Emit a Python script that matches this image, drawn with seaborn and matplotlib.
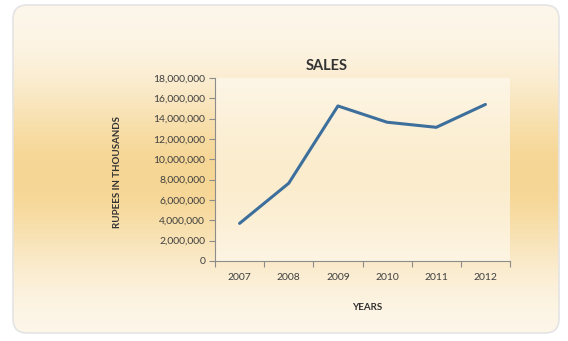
import numpy as np
import pandas as pd
import matplotlib
matplotlib.use("Agg")
import matplotlib.pyplot as plt
import seaborn as sns
from matplotlib.patches import FancyBboxPatch
from matplotlib.ticker import FuncFormatter, MultipleLocator

years = ["2007", "2008", "2009", "2010", "2011", "2012"]
sales = [3700000, 7650000, 15250000, 13650000, 13150000, 15400000]
y_ticks = [0, 2000000, 4000000, 6000000, 8000000, 10000000, 12000000, 14000000, 16000000, 18000000]

df = pd.DataFrame({"year": years, "sales": sales})

sns.set_theme(style="white")
plt.rcParams['font.family'] = ['Lato', 'DejaVu Sans']

W, H = 568, 341
fig = plt.figure(figsize=(W / 100, H / 100), dpi=100)
fig.patch.set_facecolor("white")

# background frame with vertical gradient
bg = fig.add_axes([0, 0, 1, 1], zorder=0)
bg.set_xlim(0, W)
bg.set_ylim(H, 0)
bg.axis("off")
x0, y0, x1, y1 = 13, 5, 559, 333
grad = np.linspace(0, 1, 300)
c_light = np.array([253, 248, 238]) / 255
c_mid = np.array([246, 214, 148]) / 255
w = np.exp(-((grad - 0.52) / 0.28) ** 2)
img = c_light[None, :] * (1 - w[:, None]) + c_mid[None, :] * w[:, None]
img = np.repeat(img[:, None, :], 2, axis=1)
im = bg.imshow(img, extent=[x0, x1, y1, y0], aspect="auto", zorder=1)
frame = FancyBboxPatch((x0, y0), x1 - x0, y1 - y0, boxstyle="round,pad=0,rounding_size=14",
                       facecolor="none", edgecolor="#e4e4e4", linewidth=1.2, zorder=2)
bg.add_patch(frame)
im.set_clip_path(frame)

# plot area
left, right, top, bottom = 215, 510, 78, 261
ax = fig.add_axes([left / W, 1 - bottom / H, (right - left) / W, (bottom - top) / H], zorder=3)
ax.set_facecolor((1, 0.99, 0.96, 0.6))

sns.lineplot(data=df, x="year", y="sales", ax=ax, color="#3d6f9c", linewidth=2.2, sort=False)

ax.set_xlim(-0.5, len(years) - 0.5)
ax.set_ylim(0, 18000000)
ax.set_yticks(y_ticks)
ax.yaxis.set_major_formatter(FuncFormatter(lambda v, p: f"{int(v):,}"))
ax.set_xticks(range(len(years)))
ax.set_xticklabels(years)
ax.xaxis.set_minor_locator(MultipleLocator(1, offset=0.5))

for s in ["top", "right"]:
    ax.spines[s].set_visible(False)
for s in ["left", "bottom"]:
    ax.spines[s].set_color("#8c8c8c")
    ax.spines[s].set_linewidth(0.8)

ax.tick_params(axis="y", which="major", length=4, width=0.8, color="#8c8c8c", direction="out",
               labelsize=7.5, labelcolor="#404040", pad=3, left=True)
ax.tick_params(axis="x", which="major", length=0, labelsize=7.5, labelcolor="#404040", pad=9)
ax.tick_params(axis="x", which="minor", length=4, width=0.8, color="#8c8c8c", direction="out", bottom=True)

ax.set_xlabel("")
ax.set_ylabel("")
fig.text(327 / W, 1 - 66 / H, "SALES", ha="center", va="center", fontsize=10.5,
         fontweight="bold", color="#333333")
fig.text(367 / W, 1 - 307 / H, "YEARS", ha="center", va="center", fontsize=7,
         fontweight="bold", color="#333333")
fig.text(117 / W, 1 - 172 / H, "RUPEES IN THOUSANDS", ha="center", va="center", rotation=90,
         fontsize=7, fontweight="bold", color="#333333")

fig.savefig("out.png", dpi=100, facecolor="white")
